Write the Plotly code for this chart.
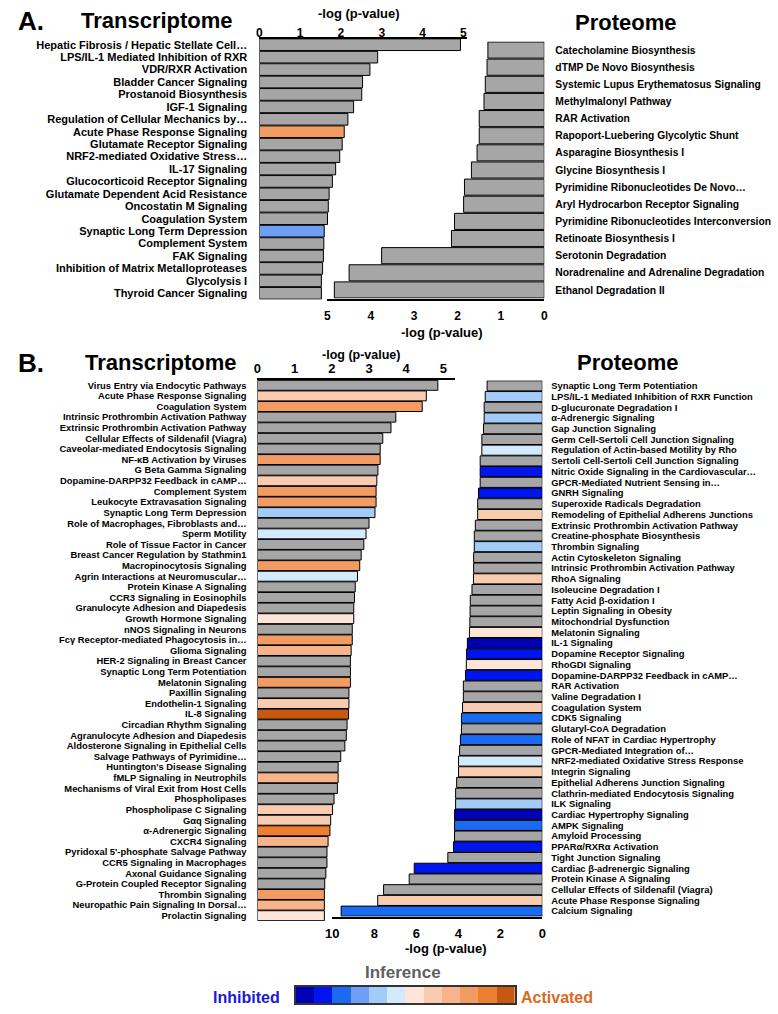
import plotly.graph_objects as go

W, H = 778, 1014

# ---------------- DATA ----------------
# Inference levels: None = no prediction (gray); 0 = strongly inhibited ... 11 = strongly activated
palette = ["#0000b4", "#0014ee", "#1a6af2", "#6f9ff5", "#a2cbf8", "#d2eafc",
           "#fde6d8", "#f9ccb0", "#f6b48b", "#f29b63", "#ee7e30", "#c65812"]
GRAY = "#a6a6a6"

A_trans_labels = [
    "Hepatic Fibrosis / Hepatic Stellate Cell…", "LPS/IL-1 Mediated Inhibition of RXR",
    "VDR/RXR Activation", "Bladder Cancer Signaling", "Prostanoid Biosynthesis",
    "IGF-1 Signaling", "Regulation of Cellular Mechanics by…", "Acute Phase Response Signaling",
    "Glutamate Receptor Signaling", "NRF2-mediated Oxidative Stress…", "IL-17 Signaling",
    "Glucocorticoid Receptor Signaling", "Glutamate Dependent Acid Resistance",
    "Oncostatin M Signaling", "Coagulation System", "Synaptic Long Term Depression",
    "Complement System", "FAK Signaling", "Inhibition of Matrix Metalloproteases",
    "Glycolysis I", "Thyroid Cancer Signaling"]
A_trans_values = [4.93, 2.90, 2.71, 2.53, 2.51, 2.31, 2.17, 2.08, 2.03, 1.97, 1.87,
                  1.79, 1.71, 1.69, 1.67, 1.59, 1.58, 1.57, 1.55, 1.52, 1.52]
A_trans_inference = [None, None, None, None, None, None, None, 9, None, None, None,
                     None, None, None, None, 3, None, None, None, None, None]

A_prot_labels = [
    "Catecholamine Biosynthesis", "dTMP De Novo Biosynthesis",
    "Systemic Lupus Erythematosus Signaling", "Methylmalonyl Pathway", "RAR Activation",
    "Rapoport-Luebering Glycolytic Shunt", "Asparagine Biosynthesis I", "Glycine Biosynthesis I",
    "Pyrimidine Ribonucleotides De Novo…", "Aryl Hydrocarbon Receptor Signaling",
    "Pyrimidine Ribonucleotides Interconversion", "Retinoate Biosynthesis I",
    "Serotonin Degradation", "Noradrenaline and Adrenaline Degradation", "Ethanol Degradation II"]
A_prot_values = [1.30, 1.32, 1.36, 1.39, 1.50, 1.50, 1.55, 1.68, 1.84, 1.86, 2.07, 2.14,
                 3.75, 4.50, 4.84]
A_prot_inference = [None] * 15

B_trans_labels = [
    "Virus Entry via Endocytic Pathways", "Acute Phase Response Signaling", "Coagulation System",
    "Intrinsic Prothrombin Activation Pathway", "Extrinsic Prothrombin Activation Pathway",
    "Cellular Effects of Sildenafil (Viagra)", "Caveolar-mediated Endocytosis Signaling",
    "NF-κB Activation by Viruses", "G Beta Gamma Signaling", "Dopamine-DARPP32 Feedback in cAMP…",
    "Complement System", "Leukocyte Extravasation Signaling", "Synaptic Long Term Depression",
    "Role of Macrophages, Fibroblasts and…", "Sperm Motility", "Role of Tissue Factor in Cancer",
    "Breast Cancer Regulation by Stathmin1", "Macropinocytosis Signaling",
    "Agrin Interactions at Neuromuscular…", "Protein Kinase A Signaling",
    "CCR3 Signaling in Eosinophils", "Granulocyte Adhesion and Diapedesis",
    "Growth Hormone Signaling", "nNOS Signaling in Neurons",
    "Fcγ Receptor-mediated Phagocytosis in…", "Glioma Signaling",
    "HER-2 Signaling in Breast Cancer", "Synaptic Long Term Potentiation", "Melatonin Signaling",
    "Paxillin Signaling", "Endothelin-1 Signaling", "IL-8 Signaling", "Circadian Rhythm Signaling",
    "Agranulocyte Adhesion and Diapedesis", "Aldosterone Signaling in Epithelial Cells",
    "Salvage Pathways of Pyrimidine…", "Huntington's Disease Signaling",
    "fMLP Signaling in Neutrophils", "Mechanisms of Viral Exit from Host Cells", "Phospholipases",
    "Phospholipase C Signaling", "Gαq Signaling", "α-Adrenergic Signaling", "CXCR4 Signaling",
    "Pyridoxal 5'-phosphate Salvage Pathway", "CCR5 Signaling in Macrophages",
    "Axonal Guidance Signaling", "G-Protein Coupled Receptor Signaling", "Thrombin Signaling",
    "Neuropathic Pain Signaling In Dorsal…", "Prolactin Signaling"]
B_trans_values = [4.85, 4.54, 4.43, 3.72, 3.59, 3.37, 3.30, 3.30, 3.24, 3.21, 3.19, 3.19,
                  3.16, 3.00, 2.92, 2.86, 2.79, 2.75, 2.69, 2.63, 2.61, 2.59, 2.59, 2.55,
                  2.55, 2.52, 2.50, 2.50, 2.50, 2.46, 2.46, 2.45, 2.41, 2.39, 2.35, 2.24,
                  2.17, 2.17, 2.15, 2.06, 2.02, 1.97, 1.95, 1.90, 1.87, 1.87, 1.84, 1.81,
                  1.80, 1.80, 1.80]
B_trans_inference = [None, 7, 9, None, None, None, None, 9, None, 7, 9, 9, 4, None, 5, None,
                     None, 9, 5, None, None, None, 6, None, 9, 8, None, None, 9, None, 7, 11,
                     None, None, None, None, None, 8, None, None, 7, 7, 10, 8, None, None,
                     None, None, 9, 8, 6]

B_prot_labels = [
    "Synaptic Long Term Potentiation", "LPS/IL-1 Mediated Inhibition of RXR Function",
    "D-glucuronate Degradation I", "α-Adrenergic Signaling", "Gap Junction Signaling",
    "Germ Cell-Sertoli Cell Junction Signaling", "Regulation of Actin-based Motility by Rho",
    "Sertoli Cell-Sertoli Cell Junction Signaling", "Nitric Oxide Signaling in the Cardiovascular…",
    "GPCR-Mediated Nutrient Sensing in…", "GNRH Signaling", "Superoxide Radicals Degradation",
    "Remodeling of Epithelial Adherens Junctions", "Extrinsic Prothrombin Activation Pathway",
    "Creatine-phosphate Biosynthesis", "Thrombin Signaling", "Actin Cytoskeleton Signaling",
    "Intrinsic Prothrombin Activation Pathway", "RhoA Signaling", "Isoleucine Degradation I",
    "Fatty Acid β-oxidation I", "Leptin Signaling in Obesity", "Mitochondrial Dysfunction",
    "Melatonin Signaling", "IL-1 Signaling", "Dopamine Receptor Signaling", "RhoGDI Signaling",
    "Dopamine-DARPP32 Feedback in cAMP…", "RAR Activation", "Valine Degradation I",
    "Coagulation System", "CDK5 Signaling", "Glutaryl-CoA Degradation",
    "Role of NFAT in Cardiac Hypertrophy", "GPCR-Mediated Integration of…",
    "NRF2-mediated Oxidative Stress Response", "Integrin Signaling",
    "Epithelial Adherens Junction Signaling", "Clathrin-mediated Endocytosis Signaling",
    "ILK Signaling", "Cardiac Hypertrophy Signaling", "AMPK Signaling", "Amyloid Processing",
    "PPARα/RXRα Activation", "Tight Junction Signaling", "Cardiac β-adrenergic Signaling",
    "Protein Kinase A Signaling", "Cellular Effects of Sildenafil (Viagra)",
    "Acute Phase Response Signaling", "Calcium Signaling"]
B_prot_values = [2.63, 2.72, 2.77, 2.77, 2.80, 2.88, 2.88, 2.96, 2.96, 2.96, 3.04, 3.08,
                 3.08, 3.19, 3.24, 3.24, 3.27, 3.27, 3.28, 3.35, 3.43, 3.44, 3.45, 3.47,
                 3.57, 3.61, 3.62, 3.66, 3.76, 3.76, 3.80, 3.85, 3.85, 3.90, 3.94, 3.99,
                 3.99, 4.08, 4.13, 4.13, 4.18, 4.18, 4.18, 4.23, 4.50, 6.10, 6.34, 7.56,
                 7.84, 9.58]
B_prot_inference = [None, 4, None, 4, None, None, 5, None, 1, None, 1, None, 7, None, None,
                    4, None, None, 7, None, None, None, None, 6, 0, 1, 6, 1, None, None, 7,
                    2, None, 2, None, 5, 7, None, None, 4, 0, 2, None, 1, None, 1, None,
                    None, 7, 2]

legend_levels = list(range(12))

# ---------------- LAYOUT HELPERS ----------------
def dx(a, b):
    return [a / W, b / W]

def dy(top, bottom):
    return [1 - bottom / H, 1 - top / H]

def colors(levels):
    return [GRAY if l is None else palette[l] for l in levels]

FONT = "Liberation Sans, Arial, sans-serif"

fig = go.Figure()

panels = [
    (A_trans_labels, A_trans_values, A_trans_inference, ""),
    (A_prot_labels, A_prot_values, A_prot_inference, "2"),
    (B_trans_labels, B_trans_values, B_trans_inference, "3"),
    (B_prot_labels, B_prot_values, B_prot_inference, "4"),
]
for labels, values, inf, ax in panels:
    fig.add_trace(go.Bar(
        x=values, y=labels, orientation="h", width=0.94,
        marker=dict(color=colors(inf), line=dict(color="black", width=1)),
        xaxis="x" + ax, yaxis="y" + ax, hoverinfo="x+y", showlegend=False,
    ))

# legend strip (colour scale of inference levels)
fig.add_trace(go.Heatmap(
    z=[legend_levels], x=legend_levels, y=[0],
    colorscale=[[i / 11, c] for i, c in enumerate(palette)],
    zmin=0, zmax=11, showscale=False, xaxis="x5", yaxis="y5", hoverinfo="skip",
))

tick_bold = dict(family=FONT, size=12, color="black", weight="bold")

def ycat(labels, domain, side, size, anchor, gap):
    return dict(
        domain=domain, anchor=anchor, type="category", categoryorder="array",
        categoryarray=labels, tickmode="array", tickvals=labels, ticktext=labels,
        range=[len(labels) - 0.5, -0.5], side=side, showline=False,
        showgrid=False, zeroline=False, ticks="outside", ticklen=gap,
        tickcolor="rgba(0,0,0,0)",
        tickfont=dict(family=FONT, size=size, color="black", weight="bold"),
        fixedrange=True,
    )

fig.update_layout(
    width=W, height=H, margin=dict(l=0, r=0, t=0, b=0),
    paper_bgcolor="white", plot_bgcolor="rgba(0,0,0,0)",
    barmode="overlay",
    font=dict(family=FONT),
    xaxis=dict(domain=dx(256, 467), anchor="y", side="top", range=[0, 5.1], dtick=1,
               showline=True, linecolor="black", linewidth=1.5, showgrid=False,
               zeroline=False, ticks="", ticklabelstandoff=-5, tickfont=tick_bold),
    yaxis=ycat(A_trans_labels, dy(38.5, 299.5), "left", 11, "x", 9),
    xaxis2=dict(domain=dx(325, 545), anchor="y2", side="bottom", range=[5, 0], dtick=1,
                showline=True, linecolor="black", linewidth=1.5, showgrid=False,
                zeroline=False, ticks="outside", ticklen=5, tickcolor="rgba(0,0,0,0)",
                tickfont=tick_bold),
    yaxis2=ycat(A_prot_labels, dy(41.5, 298.5), "right", 10.3, "x2", 8),
    xaxis3=dict(domain=dx(254, 454), anchor="y3", side="top", range=[0, 5.3], dtick=1,
                showline=True, linecolor="black", linewidth=1.5, showgrid=False,
                zeroline=False, ticks="", tickfont=dict(tick_bold, size=13)),
    yaxis3=ycat(B_trans_labels, dy(380, 921), "left", 9.4, "x3", 8),
    xaxis4=dict(domain=dx(330, 543), anchor="y4", side="bottom", range=[10, 0], dtick=2,
                showline=True, linecolor="black", linewidth=1.5, showgrid=False,
                zeroline=False, ticks="outside", ticklen=4, tickcolor="rgba(0,0,0,0)",
                tickfont=dict(tick_bold, size=13)),
    yaxis4=ycat(B_prot_labels, dy(380.5, 916.5), "right", 9.4, "x4", 6),
    xaxis5=dict(domain=dx(293, 515), anchor="y5", range=[-0.5, 11.5], showticklabels=False,
                showline=True, mirror=True, linecolor="#333333", linewidth=1.5,
                showgrid=False, zeroline=False, ticks=""),
    yaxis5=dict(domain=dy(987, 1003), anchor="x5", range=[-0.5, 0.5], showticklabels=False,
                showline=True, mirror=True, linecolor="#333333", linewidth=1.5,
                showgrid=False, zeroline=False, ticks=""),
)

def note(text, x, y, size, color="black"):
    fig.add_annotation(text="<b>%s</b>" % text, x=x / W, y=1 - y / H, xref="paper",
                       yref="paper", xanchor="center", yanchor="middle", showarrow=False,
                       font=dict(family=FONT, size=size, color=color))

note("A.", 24, 21, 26)
note("Transcriptome", 152, 21, 22)
note("Proteome", 627, 22, 22)
note("-log (p-value)", 357, 14, 13)
note("-log (p-value)", 441, 332, 13)
note("B.", 24, 363, 26)
note("Transcriptome", 156, 363, 22)
note("Proteome", 629, 363, 22)
note("-log (p-value)", 359, 355, 12.5)
note("-log (p-value)", 445, 948, 13)
note("Inference", 402, 972, 17, "#5f5f5f")
note("Inhibited", 243, 997, 16, "#1a1ad8")
note("Activated", 558, 997, 16, "#d8691e")

fig.write_html("out.html", config={"displayModeBar": False},
               post_script="document.body.style.margin='0';")
